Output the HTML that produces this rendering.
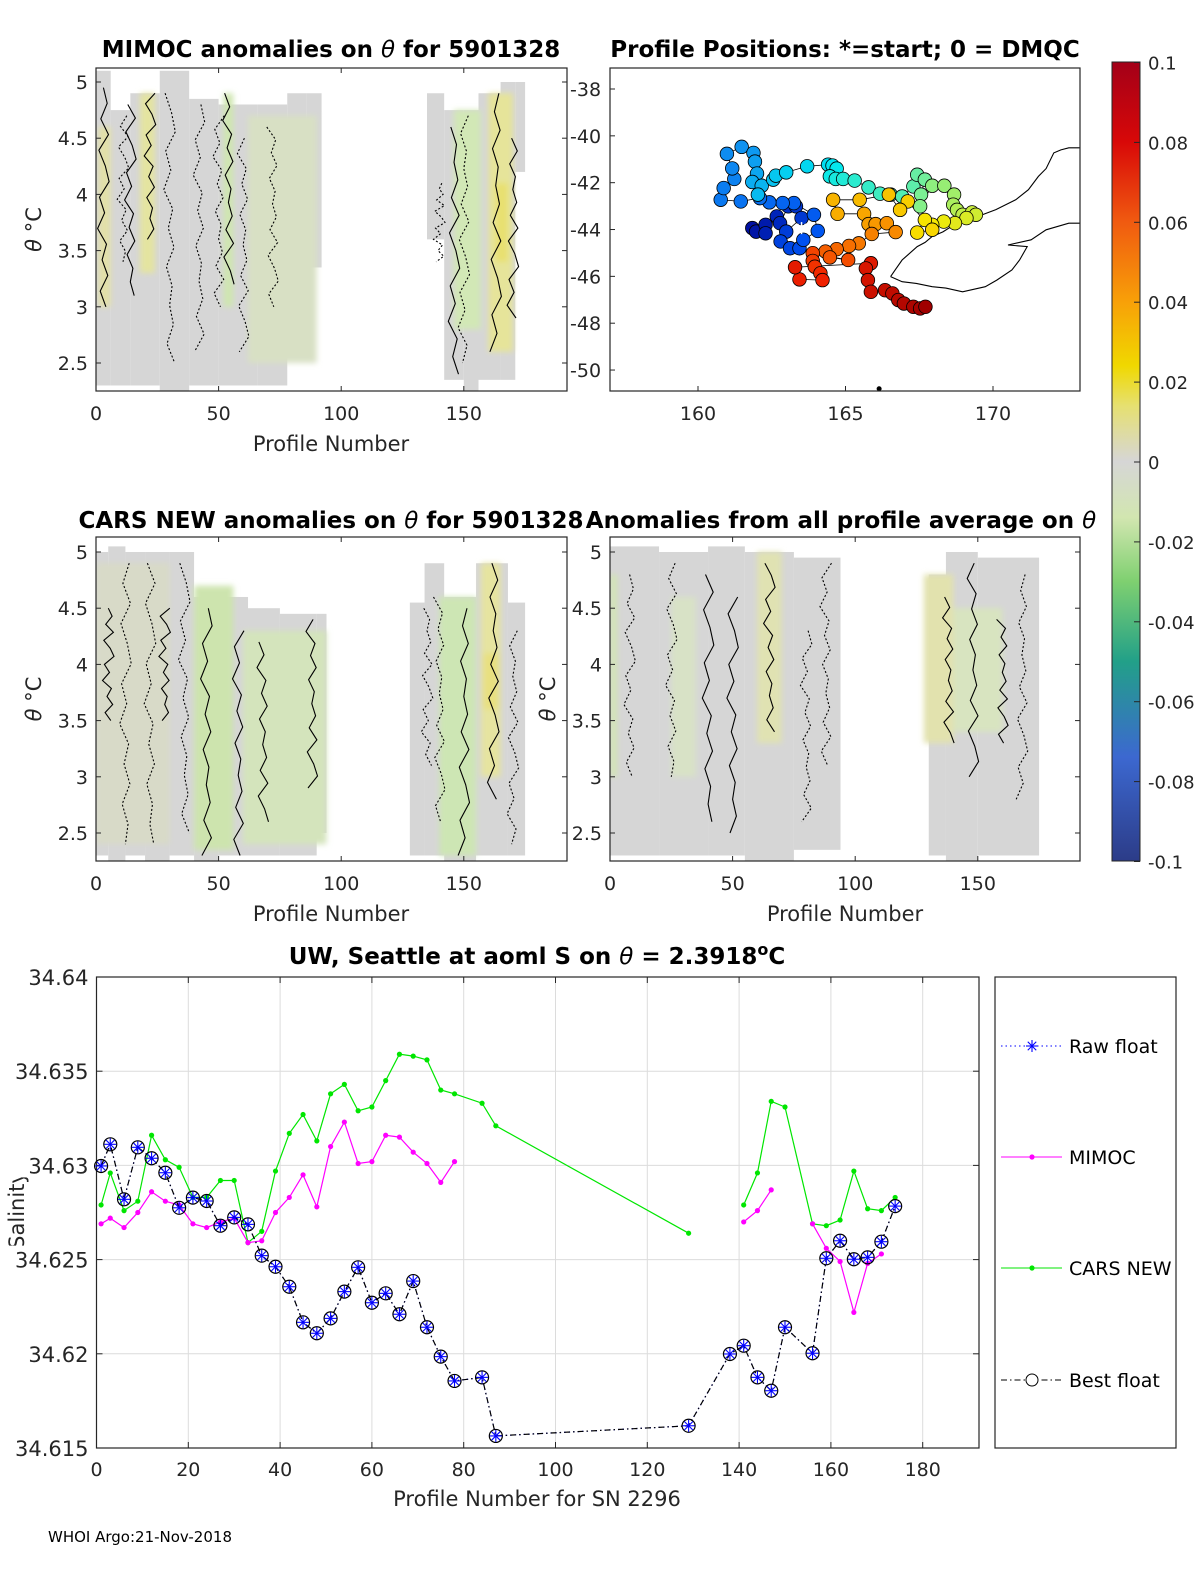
<!DOCTYPE html>
<html><head><meta charset="utf-8">
<style>
html,body{margin:0;padding:0;background:#fff;}
svg{display:block;font-family:"DejaVu Sans","Liberation Sans",sans-serif;}
</style></head>
<body>
<svg id="fig" width="1200" height="1575" viewBox="0 0 1200 1575" xmlns="http://www.w3.org/2000/svg">
<defs>
<filter id="soft" x="-10%" y="-10%" width="120%" height="120%"><feGaussianBlur stdDeviation="3"/></filter>
<linearGradient id="cbar" x1="0" y1="0" x2="0" y2="1">
<stop offset="0" stop-color="#a30018"/><stop offset="0.1" stop-color="#d80808"/>
<stop offset="0.2" stop-color="#f05a10"/><stop offset="0.3" stop-color="#f8a008"/>
<stop offset="0.38" stop-color="#f0d800"/><stop offset="0.43" stop-color="#e6e070"/>
<stop offset="0.5" stop-color="#d6d6d6"/><stop offset="0.57" stop-color="#d2e6b0"/>
<stop offset="0.65" stop-color="#7fd070"/><stop offset="0.75" stop-color="#22a088"/>
<stop offset="0.87" stop-color="#3c68d0"/><stop offset="1" stop-color="#2c3c88"/>
</linearGradient>
</defs>
<g id="root"></g>
<text x="48" y="1542" font-size="15" fill="#000">WHOI Argo:21-Nov-2018</text>
</svg>
<script>
// ===== Bottom chart data =====
const bestProfiles=[1,3,6,9,12,15,18,21,24,27,30,33,36,39,42,45,48,51,54,57,60,63,66,69,72,75,78,84,87,129,138,141,144,147,150,156,159,162,165,168,171,174];
const bestValues=[34.62997,34.63112,34.6282,34.63096,34.63038,34.62961,34.62775,34.62829,34.62811,34.6268,34.62724,34.62687,34.62521,34.62462,34.62356,34.62167,34.62109,34.62188,34.6233,34.62459,34.62271,34.62321,34.6221,34.62386,34.62141,34.61985,34.61856,34.61875,34.61564,34.61618,34.61999,34.62043,34.61875,34.61804,34.62141,34.62003,34.62507,34.626,34.62502,34.62512,34.62595,34.62784];
const mimocProfiles1=[1,3,6,9,12,15,18,21,24,27,30,33,36,39,42,45,48,51,54,57,60,63,66,69,72,75,78];
const mimocValues1=[34.6269,34.6272,34.6267,34.6275,34.6286,34.6281,34.6279,34.6269,34.6267,34.6270,34.6272,34.6259,34.6260,34.6275,34.6283,34.6295,34.6278,34.6310,34.6323,34.6301,34.6302,34.6316,34.6315,34.6307,34.6301,34.6291,34.6302];
const mimocProfiles2=[141,144,147];
const mimocValues2=[34.6270,34.6276,34.6287];
const mimocProfiles3=[156,159,162,165,168,171];
const mimocValues3=[34.6269,34.6256,34.6249,34.6222,34.6248,34.6253];
const carsProfiles1=[1,3,6,9,12,15,18,21,24,27,30,33,36,39,42,45,48,51,54,57,60,63,66,69,72,75,78,84,87,129];
const carsValues1=[34.6279,34.6296,34.6276,34.6281,34.6316,34.6303,34.6299,34.6283,34.6283,34.6292,34.6292,34.6259,34.6265,34.6297,34.6317,34.6327,34.6313,34.6338,34.6343,34.6329,34.6331,34.6345,34.6359,34.6358,34.6356,34.6340,34.6338,34.6333,34.6321,34.6264];
const carsProfiles2=[141,144,147,150,156,159,162,165,168,171,174];
const carsValues2=[34.6279,34.6296,34.6334,34.6331,34.6269,34.6268,34.6271,34.6297,34.6277,34.6276,34.6283];
const xTicks=[0,20,40,60,80,100,120,140,160,180];
const yTicks=[34.615,34.62,34.625,34.63,34.635,34.64];
const yTickLabels=["34.615","34.62","34.625","34.63","34.635","34.64"];

// ===== Map data =====
const mapLon=[161.84,161.97,162.29,162.29,162.67,162.78,163.06,163.32,163.51,162.99,162.8,163.12,163.44,163.57,164.06,163.93,163.25,162.87,162.42,162.1,161.45,160.77,160.87,161.23,161.16,160.98,161.48,161.88,161.93,162.0,161.84,162.16,162.03,162.55,162.64,162.99,163.7,164.41,164.56,164.7,164.47,164.67,164.92,165.31,165.78,166.17,166.53,166.92,167.3,167.43,167.69,167.56,167.53,167.94,168.35,168.68,168.65,168.78,168.97,169.29,169.42,169.1,168.71,168.33,167.94,167.69,167.43,167.94,167.11,166.85,166.47,165.48,164.58,164.73,165.63,165.78,166.02,166.4,166.7,165.89,165.45,165.12,164.7,164.32,164.47,165.09,163.89,163.89,163.96,164.15,164.22,163.44,163.29,165.86,165.69,165.76,165.86,166.34,166.59,166.79,166.98,167.3,167.53,167.71];
const mapLat=[-43.94,-44.09,-43.8,-44.16,-43.44,-43.73,-43.01,-43.01,-43.51,-44.09,-44.51,-44.8,-44.8,-44.44,-44.06,-43.37,-42.87,-42.87,-42.84,-42.66,-42.8,-42.73,-42.23,-41.84,-41.39,-40.77,-40.47,-40.73,-41.1,-41.61,-41.97,-42.13,-42.51,-41.87,-41.7,-41.56,-41.3,-41.23,-41.27,-41.4,-41.73,-41.84,-41.84,-41.91,-42.2,-42.47,-42.51,-42.59,-42.16,-41.66,-41.87,-42.51,-43.01,-42.13,-42.13,-42.51,-42.94,-43.16,-43.37,-43.27,-43.37,-43.51,-43.73,-43.66,-43.8,-43.59,-44.13,-44.01,-42.8,-43.16,-42.51,-42.73,-42.73,-43.33,-43.33,-43.77,-43.77,-43.73,-44.11,-44.19,-44.59,-44.7,-44.84,-44.94,-45.19,-45.3,-45.01,-45.34,-45.59,-45.87,-46.16,-46.13,-45.61,-45.44,-45.66,-46.16,-46.66,-46.59,-46.73,-47.01,-47.16,-47.3,-47.37,-47.3];
const coastLonA=[166.53,166.7,166.92,167.1,167.43,167.7,167.94,168.3,168.59,169.0,169.49,170.1,170.77,171.2,171.54,171.8,172.06,172.3,172.57,172.96];
const coastLatA=[-46.01,-45.7,-45.3,-45.1,-44.73,-44.55,-44.3,-44.1,-43.87,-43.7,-43.44,-43.15,-42.73,-42.3,-41.73,-41.4,-40.73,-40.6,-40.51,-40.51];
const coastLonB=[166.53,166.92,167.4,167.94,168.4,168.97,169.74,170.13,170.64,170.9,171.16,170.51,171.29,171.8,172.57,172.96];
const coastLatB=[-46.01,-46.23,-46.3,-46.44,-46.5,-46.66,-46.44,-46.16,-45.73,-45.3,-44.73,-44.66,-44.44,-44.01,-43.73,-43.73];

// ===== Contour panel region data: [p0,p1,theta0,theta1,color] =====
const regionsTL=[[0,6,2.3,5.1,'#d6d6d6'],[6,14,2.3,4.75,'#d6d6d6'],[14,26,2.3,4.9,'#d6d6d6'],[26,38,2.25,5.1,'#d6d6d6'],[38,50,2.3,4.85,'#d6d6d6'],[50,66,2.3,4.8,'#d6d6d6'],[66,78,2.3,4.8,'#d6d6d6'],[78,86,2.6,4.9,'#d6d6d6'],[86,92,3.35,4.9,'#d6d6d6'],[135,142,3.6,4.9,'#d6d6d6'],[142,150,2.35,4.75,'#d6d6d6'],[150,156,2.25,4.75,'#d6d6d6'],[156,165,2.35,4.9,'#d6d6d6'],[165,171,2.35,5.0,'#d6d6d6'],[171,175,4.2,5.0,'#d6d6d6'],
 [1,6,3.0,4.6,'#e2e0a8'],[18,24,3.3,4.9,'#e4e4a0'],[52,56,3.0,4.9,'#cfe6b0'],[62,90,2.5,4.7,'#d8e0c4'],[146,157,2.8,4.75,'#d2e8b6'],[160,170,2.6,4.9,'#e6e49a'],[163,168,3.4,4.1,'#e8e070']];
const regionsML=[[0,5,2.3,5.0,'#d6d6d6'],[5,12,2.25,5.05,'#d6d6d6'],[12,20,2.3,5.0,'#d6d6d6'],[20,30,2.25,5.0,'#d6d6d6'],[30,40,2.3,5.0,'#d6d6d6'],[40,50,2.25,4.6,'#d6d6d6'],[50,62,2.3,4.6,'#d6d6d6'],[62,75,2.3,4.5,'#d6d6d6'],[75,90,2.3,4.45,'#d6d6d6'],[90,94,2.5,4.45,'#d6d6d6'],[128,134,2.3,4.55,'#d6d6d6'],[134,142,2.3,4.9,'#d6d6d6'],[142,155,2.25,4.6,'#d6d6d6'],[155,168,2.3,4.9,'#d6d6d6'],[168,175,2.3,4.55,'#d6d6d6'],
 [0,30,2.4,4.9,'#d8dac8'],[40,56,2.35,4.7,'#cde4ae'],[60,94,2.4,4.3,'#d4e4bc'],[140,155,2.3,4.6,'#cde6b4'],[157,165,3.0,4.9,'#e6e4a0'],[158,164,3.6,4.1,'#e8e080']];
const regionsMR=[[0,20,2.3,5.05,'#d6d6d6'],[20,40,2.3,5.0,'#d6d6d6'],[40,55,2.3,5.05,'#d6d6d6'],[55,75,2.25,5.0,'#d6d6d6'],[75,94,2.35,4.95,'#d6d6d6'],[130,137,2.3,4.8,'#d6d6d6'],[137,150,2.25,5.0,'#d6d6d6'],[150,175,2.3,4.95,'#d6d6d6'],
 [60,70,3.3,5.0,'#e0e2b2'],[128,140,3.3,4.8,'#e2e2ae'],[140,160,3.4,4.5,'#d8e4c0'],[0,3,3.0,4.8,'#d2e4b6'],[25,35,3.0,4.6,'#d8e2c6']];
// contour lines: [profile, thetaTop, thetaBottom, dashed(1)/solid(0)]
const contTL=[[3,4.95,3.0,0],[11,4.7,3.4,1],[14,4.8,3.1,0],[22,4.9,3.6,0],[30,4.9,2.5,1],[42,4.8,2.6,1],[50,4.7,3.0,1],[54,4.9,3.2,0],[60,4.5,2.6,1],[72,4.6,3.0,1],[163,4.9,2.6,0],[170,4.5,2.9,0],[150,4.7,2.5,1],[146,4.6,2.4,0],[140,4.1,3.4,1]];
const contML=[[5,4.5,3.5,0],[12,4.9,2.4,1],[22,4.9,2.4,1],[28,4.5,3.5,0],[36,4.9,2.5,1],[45,4.5,2.3,0],[58,4.3,2.3,0],[68,4.2,2.6,0],[88,4.4,2.9,0],[140,4.6,2.6,1],[150,4.5,2.3,0],[162,4.9,2.8,0],[170,4.3,2.4,1],[135,4.5,3.1,1]];
const contMR=[[8,4.8,3.0,1],[25,4.9,3.0,1],[40,4.8,2.6,0],[50,4.6,2.5,0],[65,4.9,3.4,0],[80,4.3,2.6,1],[88,4.9,3.1,1],[138,4.6,3.3,0],[148,4.9,3.0,0],[160,4.4,3.3,0],[168,4.8,2.8,1]];
const wig=[0,1.2,-0.8,1.6,-1.4,0.6,1.8,-1.2,0.4,-1.8,1.0,-0.4,1.4,-1.0,0.8];

const NS='http://www.w3.org/2000/svg';
const root=document.getElementById('root');
function el(tag,attrs,parent){const e=document.createElementNS(NS,tag);for(const k in attrs)e.setAttribute(k,attrs[k]);(parent||root).appendChild(e);return e;}
function txt(s,attrs,parent){const e=el('text',attrs,parent);e.textContent=s;return e;}

// ---------- Contour panels ----------
function panel(name,bx,by,bw,bh,xs,ys,regions,conts,xticks,yticks){
  const g=el('g',{});
  
  
  const clipId='clip-'+name;
  const cp=el('clipPath',{id:clipId},g);el('rect',{x:bx,y:by,width:bw,height:bh},cp);
  const fill=el('g',{'clip-path':'url(#'+clipId+')'},g);
  const soft=el('g',{},fill);
  regions.forEach((r,i)=>{
    const x0=xs(r[0]),x1=xs(r[1]),y0=ys(r[3]),y1=ys(r[2]);
    const rc=el('rect',{x:x0,y:y0,width:x1-x0,height:y1-y0,fill:r[4]},r[4]==='#d6d6d6'?fill:soft);
    
    
  });
  soft.setAttribute('filter','url(#soft)');
  fill.appendChild(soft);
  conts.forEach((c,ci)=>{
    let d='';const t0=c[1],t1=c[2];const n=14;
    for(let k=0;k<=n;k++){const t=t0+(t1-t0)*k/n;const x=xs(c[0]+wig[(k+ci)%wig.length]*1.3);const y=ys(t);d+=(k?'L':'M')+x.toFixed(1)+' '+y.toFixed(1);}
    const p=el('path',{d:d,fill:'none',stroke:'#000','stroke-width':1.1,'stroke-dasharray':c[3]?'2 2':'none'},fill);
    
    
  });
  el('rect',{x:bx,y:by,width:bw,height:bh,fill:'none',stroke:'#262626','stroke-width':1.2},g);
  xticks.forEach(v=>{const x=xs(v);el('line',{x1:x,x2:x,y1:by+bh,y2:by+bh-5,stroke:'#262626'},g);el('line',{x1:x,x2:x,y1:by,y2:by+5,stroke:'#262626'},g);
    const t=txt(String(v),{x:x,y:by+bh+29,'font-size':19,'text-anchor':'middle',fill:'#262626'},g);});
  yticks.forEach(v=>{const y=ys(v);el('line',{x1:bx,x2:bx+5,y1:y,y2:y,stroke:'#262626'},g);el('line',{x1:bx+bw,x2:bx+bw-5,y1:y,y2:y,stroke:'#262626'},g);
    const t=txt(String(v),{x:bx-8,y:y+7,'font-size':19,'text-anchor':'end',fill:'#262626'},g);});
  const yl=txt('',{transform:'translate('+(bx-55)+','+(by+bh/2)+') rotate(-90)','font-size':21,'text-anchor':'middle',fill:'#262626'},g);
  
  const ts=el('tspan',{'font-style':'italic'},yl);ts.textContent='θ';const ts2=el('tspan',{},yl);ts2.textContent=' °C';
  return g;
}
const thTicks=[2.5,3,3.5,4,4.5,5];
const ysTop=t=>82+(5-t)*112.4, ysMid=t=>552+(5-t)*112.4;
const xsL=p=>96+p*2.452, xsR=p=>610+p*2.452;
panel('mimoc-anomaly-panel',96,68,471,323,xsL,ysTop,regionsTL,contTL,[0,50,100,150],thTicks);
panel('cars-anomaly-panel',96,537,471,324,xsL,ysMid,regionsML,contML,[0,50,100,150],thTicks);
panel('profile-average-anomaly-panel',610,537,470,324,xsR,ysMid,regionsMR,contMR,[0,50,100,150],thTicks);

function title(s,x,y,name){const t=txt('',{x:x,y:y,'font-size':23,'font-weight':'bold','text-anchor':'middle',fill:'#000'});return t;}
function tparts(t,parts){parts.forEach(p=>{const s=el('tspan',p[1]?{'font-style':'italic','font-weight':'normal'}:{},t);s.textContent=p[0];});}
tparts(title('',331,57,'mimoc-panel-title'),[['MIMOC anomalies on ',0],['θ',1],['  for 5901328',0]]);
tparts(title('',845,57,'map-title'),[['Profile Positions: *=start; 0 = DMQC',0]]);
tparts(title('',331,528,'cars-panel-title'),[['CARS NEW anomalies on ',0],['θ',1],[' for 5901328',0]]);
tparts(title('',841,528,'average-panel-title'),[['Anomalies from all profile average on ',0],['θ',1]]);
[['Profile Number',331,448],['Profile Number',331,918],['Profile Number',845,918]].forEach(a=>{const t=txt(a[0],{x:a[1],y:a[2]+3,'font-size':21,'text-anchor':'middle',fill:'#262626'});});

// ---------- Map ----------
(function(){
  const g=el('g',{});
  
  
  const bx=610,by=68,bw=470,bh=323;
  const mx=lon=>698+(lon-160)*29.5, my=lat=>89+(-38-lat)*23.42;
  const cp=el('clipPath',{id:'mapclip'},g);el('rect',{x:bx,y:by,width:bw,height:bh},cp);
  const cg=el('g',{'clip-path':'url(#mapclip)'},g);
  [[coastLonA,coastLatA],[coastLonB,coastLatB]].forEach(c=>{
    const p=el('polyline',{points:c[0].map((v,i)=>mx(v).toFixed(1)+','+my(c[1][i]).toFixed(1)).join(' '),fill:'none',stroke:'#000','stroke-width':1.1},cg);
    
  });
  el('circle',{cx:mx(166.14),cy:my(-50.8),r:2.5,fill:'#000'},cg);
  const path=el('polyline',{points:mapLon.map((v,i)=>mx(v).toFixed(1)+','+my(mapLat[i]).toFixed(1)).join(' '),fill:'none',stroke:'#000','stroke-width':0.8},cg);
  
  const cols=[[0,16,160],[0,80,240],[16,144,240],[0,232,240],[128,240,144],[248,232,0],[248,144,0],[240,32,0],[160,0,0]];
  const n=mapLon.length;
  mapLon.forEach((v,i)=>{
    const t=i/(n-1)*(cols.length-1);const k=Math.min(Math.floor(t),cols.length-2);const f=t-k;
    const c=cols[k].map((a,j)=>Math.round(a+(cols[k+1][j]-a)*f));
    const ci=el('circle',{cx:mx(v),cy:my(mapLat[i]),r:6.8,fill:'rgb('+c.join(',')+')',stroke:'#000','stroke-width':0.8},cg);
    
  });
  const sx=mx(163.51),sy=my(-43.94);
  for(let a=0;a<4;a++){const an=a*Math.PI/4;el('line',{x1:sx-6*Math.cos(an),y1:sy-6*Math.sin(an),x2:sx+6*Math.cos(an),y2:sy+6*Math.sin(an),stroke:'#fff','stroke-width':1.5},cg);}
  el('rect',{x:bx,y:by,width:bw,height:bh,fill:'none',stroke:'#262626','stroke-width':1.2},g);
  [160,165,170].forEach(v=>{const x=mx(v);el('line',{x1:x,x2:x,y1:by+bh,y2:by+bh-5,stroke:'#262626'},g);
    const t=txt(String(v),{x:x,y:by+bh+29,'font-size':19,'text-anchor':'middle',fill:'#262626'},g);});
  [-38,-40,-42,-44,-46,-48,-50].forEach(v=>{const y=my(v);el('line',{x1:bx,x2:bx+5,y1:y,y2:y,stroke:'#262626'},g);
    const t=txt(String(v),{x:570,y:y+7,'font-size':19,'text-anchor':'start',fill:'#262626'},g);});
})();

// ---------- Colorbar ----------
(function(){
  const g=el('g',{});
  
  
  el('rect',{x:1112,y:62,width:28,height:799,fill:'url(#cbar)',stroke:'#262626','stroke-width':1},g);
  const vals=[0.1,0.08,0.06,0.04,0.02,0,-0.02,-0.04,-0.06,-0.08,-0.1];
  vals.forEach(v=>{const y=462-v*3995;el('line',{x1:1134,x2:1140,y1:y,y2:y,stroke:'#262626'},g);
    const t=txt(String(v),{x:1148,y:y+7,'font-size':18,fill:'#262626'},g);});
})();

// ---------- Bottom line chart ----------
(function(){
  const g=el('g',{});
  
  
  const L=96.5,R=979,T=977,B=1448;
  const X=p=>L+p*4.59, Y=v=>T+(34.64-v)/0.025*(B-T);
  const yt=txt('Salinity',{transform:'translate(24,1210) rotate(-90)','font-size':21,'text-anchor':'middle',fill:'#262626'},g);
  
  el('rect',{x:L,y:T,width:R-L,height:B-T,fill:'#fff'},g);
  xTicks.forEach(v=>{const x=X(v);el('line',{x1:x,x2:x,y1:T,y2:B,stroke:'#dcdcdc'},g);el('line',{x1:x,x2:x,y1:B,y2:B-6,stroke:'#262626'},g);el('line',{x1:x,x2:x,y1:T,y2:T+6,stroke:'#262626'},g);
    const t=txt(String(v),{x:x,y:B+28,'font-size':19,'text-anchor':'middle',fill:'#262626'},g);});
  yTicks.forEach((v,i)=>{const y=Y(v);el('line',{x1:L,x2:R,y1:y,y2:y,stroke:'#dcdcdc'},g);el('line',{x1:L,x2:L+6,y1:y,y2:y,stroke:'#262626'},g);el('line',{x1:R,x2:R-6,y1:y,y2:y,stroke:'#262626'},g);
    el('rect',{x:8,y:y-14,width:L-14,height:26,fill:'#fff'},g);
    const t=txt(yTickLabels[i],{x:L-8,y:y+8,'font-size':21,'text-anchor':'end',fill:'#262626'},g);});
  el('rect',{x:L,y:T,width:R-L,height:B-T,fill:'none',stroke:'#262626','stroke-width':1.2},g);
  function line(ps,vs,color,name,dash,w){
    const p=el('polyline',{points:ps.map((q,i)=>X(q).toFixed(1)+','+Y(vs[i]).toFixed(1)).join(' '),fill:'none',stroke:color,'stroke-width':w||1.2,'stroke-dasharray':dash||'none'},g);
    
  }
  function dots(ps,vs,color,name){ps.forEach((q,i)=>{const c=el('circle',{cx:X(q),cy:Y(vs[i]),r:2.6,fill:color},g);});}
  line(carsProfiles1,carsValues1,'#00e600','cars-new-line-1');line(carsProfiles2,carsValues2,'#00e600','cars-new-line-2');
  dots(carsProfiles1,carsValues1,'#00e600','cars-new-point');dots(carsProfiles2,carsValues2,'#00e600','cars-new-point');
  line(mimocProfiles1,mimocValues1,'#ff00ff','mimoc-line-1');line(mimocProfiles2,mimocValues2,'#ff00ff','mimoc-line-2');line(mimocProfiles3,mimocValues3,'#ff00ff','mimoc-line-3');
  dots(mimocProfiles1,mimocValues1,'#ff00ff','mimoc-point');dots(mimocProfiles2,mimocValues2,'#ff00ff','mimoc-point');dots(mimocProfiles3,mimocValues3,'#ff00ff','mimoc-point');
  line(bestProfiles,bestValues,'#0000ff','raw-float-line','1.5 3');
  line(bestProfiles,bestValues,'#000','best-float-line','6 3 1.5 3');
  bestProfiles.forEach((q,i)=>{
    const cx=X(q),cy=Y(bestValues[i]);
    const m=el('g',{},g);
    el('circle',{cx:cx,cy:cy,r:6.5,fill:'none',stroke:'#000','stroke-width':1.2},m);
    for(let a=0;a<4;a++){const an=a*Math.PI/4;el('line',{x1:cx-6*Math.cos(an),y1:cy-6*Math.sin(an),x2:cx+6*Math.cos(an),y2:cy+6*Math.sin(an),stroke:'#0000ff','stroke-width':1.1},m);}
  });
  const tt=txt('',{x:537,y:964,'font-size':23,'font-weight':'bold','text-anchor':'middle',fill:'#000'},g);
  
  tparts(tt,[['UW, Seattle at aoml S on ',0],['θ',1],[' = 2.3918',0]]);
  const sup=el('tspan',{dy:-9,'font-size':16},tt);sup.textContent='o';const cc=el('tspan',{dy:9},tt);cc.textContent='C';
  const xt=txt('Profile Number for SN 2296',{x:537,y:1506,'font-size':21,'text-anchor':'middle',fill:'#262626'},g);
  
  // legend
  const lg=el('g',{},g);
  el('rect',{x:995,y:977,width:181,height:471,fill:'#fff',stroke:'#262626','stroke-width':1.2},lg);
  const entries=[['Raw float',1046],['MIMOC',1157],['CARS NEW',1268],['Best float',1380]];
  entries.forEach((e,i)=>{
    const eg=el('g',{},lg);
    const y=e[1];
    if(i===0){el('line',{x1:1001,x2:1062,y1:y,y2:y,stroke:'#0000ff','stroke-dasharray':'1.5 3'},eg);
      for(let a=0;a<4;a++){const an=a*Math.PI/4;el('line',{x1:1032-6*Math.cos(an),y1:y-6*Math.sin(an),x2:1032+6*Math.cos(an),y2:y+6*Math.sin(an),stroke:'#0000ff','stroke-width':1.1},eg);}}
    if(i===1){el('line',{x1:1001,x2:1062,y1:y,y2:y,stroke:'#ff00ff'},eg);el('circle',{cx:1032,cy:y,r:2.6,fill:'#ff00ff'},eg);}
    if(i===2){el('line',{x1:1001,x2:1062,y1:y,y2:y,stroke:'#00e600'},eg);el('circle',{cx:1032,cy:y,r:2.6,fill:'#00e600'},eg);}
    if(i===3){el('line',{x1:1001,x2:1062,y1:y,y2:y,stroke:'#000','stroke-dasharray':'6 3 1.5 3'},eg);el('circle',{cx:1032,cy:y,r:6,fill:'#fff',stroke:'#000'},eg);}
    txt(e[0],{x:1069,y:y+7,'font-size':19,fill:'#000'},eg);
  });
})();
</script>
</body></html>
